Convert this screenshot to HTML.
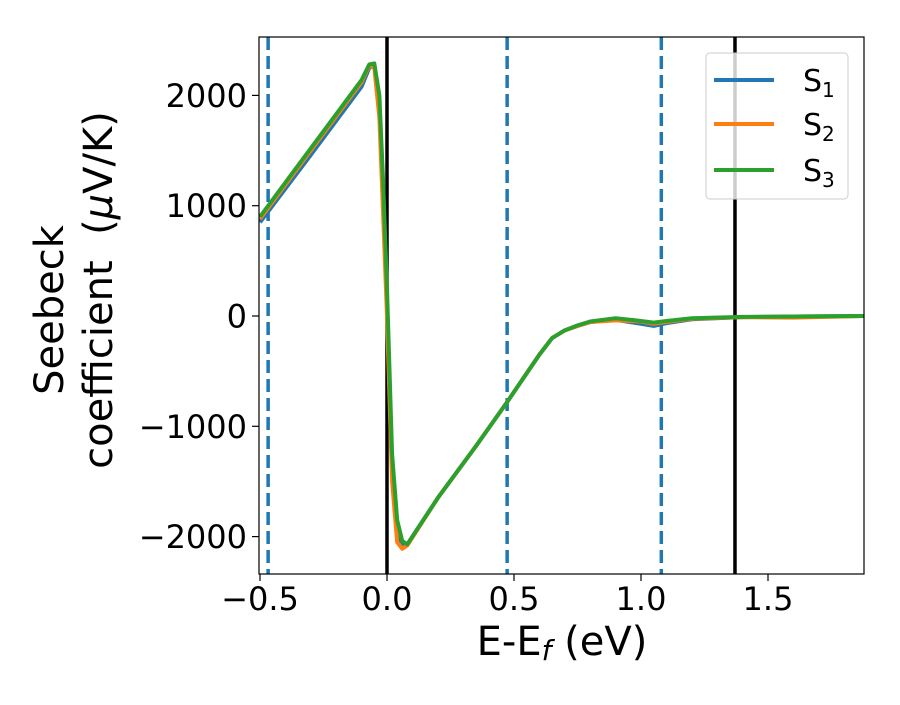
<!DOCTYPE html>
<html><head><meta charset="utf-8"><style>
body{margin:0;background:#fff}
svg text{font-family:"DejaVu Sans","Liberation Sans",sans-serif;fill:#000}
</style></head><body>
<svg id="chart" width="900" height="700">
<defs><clipPath id="clip"><rect x="259" y="37" width="605" height="537"/></clipPath></defs>
<g id="plot" clip-path="url(#clip)"></g>
<rect x="259" y="37" width="605" height="537" fill="none" stroke="#000" stroke-width="1.2"/>
<g id="axes"></g>
<text x="562" y="655" font-size="40" text-anchor="middle">E-E<tspan font-style="italic" font-size="28" dy="5">f</tspan><tspan dy="-5"> (eV)</tspan></text>
<text transform="translate(63,310) rotate(-90)" font-size="40" text-anchor="middle">Seebeck</text>
<text transform="translate(112,290) rotate(-90)" font-size="40" text-anchor="middle" xml:space="preserve">coefficient  (<tspan font-style="italic">μ</tspan>V/K)</text>
<g id="legend">
<rect x="706" y="53" width="142" height="146" rx="4" fill="#fff" fill-opacity="0.8" stroke="#ccc"/>
</g>
</svg>
<script>
const xTicks=[-0.5,0.0,0.5,1.0,1.5];
const xTickLabels=["−0.5","0.0","0.5","1.0","1.5"];
const yTicks=[-2000,-1000,0,1000,2000];
const yTickLabels=["−2000","−1000","0","1000","2000"];
const dashedLines=[-0.468,0.473,1.08];
const solidLines=[0.0,1.37];
const seriesNames=["S1","S2","S3"];
const s1x=[-0.5,-0.3,-0.1,-0.07,-0.05,-0.03,-0.015,0.0,0.02,0.04,0.06,0.08,0.2,0.35,0.47,0.6,0.65,0.7,0.75,0.8,0.9,1.0,1.05,1.1,1.2,1.4,1.6,1.88];
const s1y=[850,1460,2080,2250,2270,1900,1000,100,-1400,-1950,-2080,-2070,-1650,-1180,-790,-350,-200,-130,-90,-55,-35,-70,-90,-65,-30,-10,-5,0];
const s2x=[-0.5,-0.3,-0.1,-0.07,-0.05,-0.03,-0.015,0.0,0.02,0.04,0.06,0.08,0.2,0.35,0.47,0.6,0.65,0.7,0.75,0.8,0.9,1.0,1.05,1.1,1.2,1.4,1.6,1.88];
const s2y=[880,1500,2120,2270,2250,1800,900,0,-1500,-2050,-2110,-2080,-1650,-1180,-790,-350,-200,-130,-90,-55,-40,-50,-70,-55,-25,-10,-15,0];
const s3x=[-0.5,-0.3,-0.1,-0.07,-0.05,-0.03,-0.015,0.0,0.02,0.04,0.06,0.08,0.2,0.35,0.47,0.6,0.65,0.7,0.75,0.8,0.9,1.0,1.05,1.1,1.2,1.4,1.6,1.88];
const s3y=[900,1520,2140,2280,2290,2000,1200,250,-1250,-1850,-2040,-2070,-1650,-1180,-790,-350,-200,-130,-85,-50,-20,-45,-60,-45,-20,-8,-5,0];
const colors=["#1f77b4","#ff7f0e","#2ca02c"];
const X=v=>260+(v+0.5)*254;
const Y=v=>316-v*0.1103;
const NS="http://www.w3.org/2000/svg";
const plot=document.getElementById('plot'),axes=document.getElementById('axes'),legend=document.getElementById('legend');
function mk(tag,attrs,parent){const e=document.createElementNS(NS,tag);for(const k in attrs)e.setAttribute(k,attrs[k]);parent.appendChild(e);return e;}
dashedLines.forEach(v=>{const l=mk('line',{x1:X(v),x2:X(v),y1:37,y2:574,stroke:"#1f77b4","stroke-width":3.5,"stroke-dasharray":"13,6"},plot);

});
solidLines.forEach(v=>{const l=mk('line',{x1:X(v),x2:X(v),y1:37,y2:574,stroke:"#000","stroke-width":3.5},plot);

});
[[s1x,s1y],[s2x,s2y],[s3x,s3y]].forEach((s,i)=>{const p=mk('polyline',{points:s[0].map((x,j)=>X(x)+","+Y(s[1][j])).join(" "),fill:"none",stroke:colors[i],"stroke-width":4,"stroke-linejoin":"round"},plot);

});
xTicks.forEach((v,i)=>{mk('line',{x1:X(v),x2:X(v),y1:574,y2:581,stroke:"#000","stroke-width":1.2},axes);
const t=mk('text',{x:X(v),y:610,"font-size":32,"text-anchor":"middle"},axes);t.textContent=xTickLabels[i];

});
yTicks.forEach((v,i)=>{mk('line',{x1:252,x2:259,y1:Y(v),y2:Y(v),stroke:"#000","stroke-width":1.2},axes);
const t=mk('text',{x:247,y:Y(v)+11.5,"font-size":32,"text-anchor":"end"},axes);t.textContent=yTickLabels[i];

});
[80,124,170].forEach((y,i)=>{const l=mk('line',{x1:714,x2:774,y1:y,y2:y,stroke:colors[i],"stroke-width":4},legend);


const t=mk('text',{x:803,y:y+11,"font-size":30},legend);t.textContent="S";
const s=mk('tspan',{"font-size":20,dy:6},t);s.textContent=String(i+1);

});
</script>
</body></html>
